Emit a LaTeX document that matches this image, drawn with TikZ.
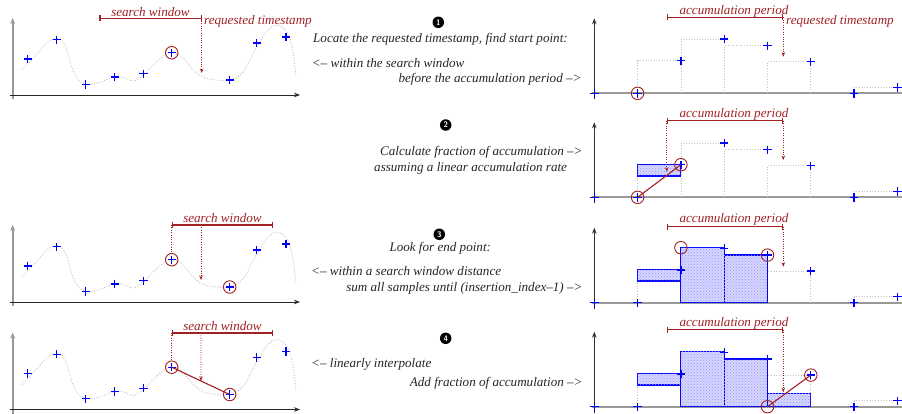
\documentclass[tikz,border=0pt]{standalone}
\usepackage{fontspec}
\setmainfont{Liberation Serif}
\usetikzlibrary{arrows.meta,calc,patterns}
\definecolor{dred}{RGB}{160,32,36}
\newcommand\curvepath{(21.7,70) (33.3,58.3) (46.7,43.3) (56.7,38.3) (65,45) (71.7,66.7) (78.3,80) (88.3,84.3) (100,82.3) (113.3,77.3) (123.3,77.3) (133.3,81) (143.3,75) (156.7,61.7) (170,52.3) (181.7,56.7) (193.3,70) (203.3,77.3) (216.7,80) (230,80) (243.3,71.7) (255,50) (266.7,31.7) (276.7,25) (286.7,31.7) (292.7,50) (296,76.7)}
\newcommand\leftbase[1]{%
  \draw[curveline] plot[smooth, tension=0.55] coordinates {\curvepath};
  \draw[yaxL] (12.7,99.3) -- (12.7,18);
  \draw[xaxL] (10,95) -- (300,95);
  \node[ptn] (#1p1) at (27.7,59) {};
  \node[ptn] (#1p2) at (56.7,39.7) {};
  \node[ptn] (#1p3) at (85.7,84.3) {};
  \node[ptn] (#1p4) at (114.7,77) {};
  \node[ptn] (#1p5) at (143.3,73.7) {};
  \node[ptn] (#1p6) at (171.7,52.7) {};
  \node[ptn] (#1p7) at (229.7,80) {};
  \node[ptn] (#1p8) at (256.7,43) {};
  \node[ptn] (#1p9) at (286,37) {};
}
\newcommand\rightbase{%
  \draw[yaxR] (594.3,6) -- (594.3,-75);
  \draw[xaxR] (591.7,0) -- (902,0);
  \draw[stepline] (637.6,0) -- (637.6,-32.6) -- (680.9,-32.6);
  \draw[stepline] (680.9,0) -- (680.9,-54.3) -- (724.2,-54.3);
  \draw[stepline] (724.2,0) -- (724.2,-47.6) -- (767.5,-47.6);
  \draw[stepline] (767.5,0) -- (767.5,-31.6) -- (810.8,-31.6) -- (810.8,0);
  \draw[stepline] (854.1,0) -- (854.1,-6) -- (897.4,-6);
}
\newcommand\rightpoints[1]{%
  \node[ptn] (#1q0) at (594.3,0) {};
  \node[ptn] (#1q1) at (637.6,0) {};
  \node[ptn] (#1q2) at (680.9,-32.6) {};
  \node[ptn] (#1q3) at (724.2,-54.3) {};
  \node[ptn] (#1q4) at (767.5,-47.6) {};
  \node[ptn] (#1q5) at (810.8,-31.6) {};
  \node[ptn] (#1q6) at (854.1,0) {};
  \node[ptn] (#1q7) at (897.4,-6) {};
}
\begin{document}
\begin{tikzpicture}[x=1pt,y=-1pt,
  every node/.style={font=\fontsize{13.1}{15}\selectfont\itshape},
  lbl/.style={text=dred, inner sep=0pt},
  txt/.style={text=black!85, inner sep=0pt},
  ptn/.style={shape=rectangle, inner sep=0pt, minimum size=8pt},
  plusline/.style={blue, line width=1.3pt},
  ring/.style={circle, draw=dred, line width=0.9pt, minimum size=12.5pt, inner sep=0pt},
  curveline/.style={gray!50, dash pattern=on 0.9pt off 1.8pt, line width=0.9pt},
  stepline/.style={gray!50, dash pattern=on 0.9pt off 1.8pt, line width=0.8pt},
  win/.style={dred, line width=1.2pt, {Bar[width=6pt]}-{Bar[width=6pt]}},
  drop/.style={dred, line width=0.9pt, dash pattern=on 1pt off 1.4pt, -{Stealth[length=4.5pt,width=3.5pt]}},
  guide/.style={dred, line width=0.9pt, dash pattern=on 1pt off 1.4pt},
  link/.style={dred, line width=1.1pt},
  yaxL/.style={gray!80, line width=1.8pt, -{Stealth[length=6pt,width=5pt]}},
  xaxL/.style={black!85, line width=0.8pt, -{Stealth[length=6pt,width=4.5pt]}},
  yaxR/.style={black!80, line width=0.8pt, -{Stealth[length=6pt,width=4.5pt]}},
  xaxR/.style={gray!80, line width=1.8pt},
  acc/.style={draw=blue, line width=1.1pt, fill=blue!16,
    postaction={pattern=crosshatch dots, pattern color=blue!40}},
  num/.style={circle, fill=black, text=white, inner sep=0pt, minimum size=11.5pt,
    font=\fontsize{8}{8}\selectfont\bfseries\sffamily}
]
\useasboundingbox (0,0) rectangle (902,413);

% ---------------- left panel 1
\begin{scope}
  \leftbase{a}
  \coordinate (aw1) at (99.3,18.3);
  \coordinate (aw2) at (201.7,18.3);
  \coordinate (at) at (201.7,73);
  \draw[win] (aw1) -- (aw2);
  \draw[drop] (aw2) -- (at);
  \node[lbl, anchor=base] (asw) at (150.5,16) {search window};
  \node[lbl, anchor=base west] (art) at (204,24) {requested timestamp};
\end{scope}

% ---------------- left panel 3
\begin{scope}[shift={(0,207)}]
  \leftbase{c}
  \coordinate (cw1) at (171.7,18);
  \coordinate (cw2) at (273.3,18);
  \coordinate (cwm) at (201,18);
  \coordinate (ct) at (201,73);
  \draw[win] (cw1) -- (cw2);
  \draw[drop] (cwm) -- (ct);
  \node[lbl, anchor=base] (csw) at (222.5,15) {search window};
\end{scope}

% ---------------- left panel 4
\begin{scope}[shift={(0,314.5)}]
  \leftbase{d}
  \coordinate (dw1) at (171.7,18.5);
  \coordinate (dw2) at (273.3,18.5);
  \coordinate (dwm) at (201,18.5);
  \draw[win] (dw1) -- (dw2);
  \node[lbl, anchor=base] (dsw) at (222.5,15.5) {search window};
\end{scope}

% ---------------- right panel 1
\begin{scope}[shift={(0,93.3)}]
  \rightbase
  \rightpoints{e}
  \coordinate (ew1) at (666.7,-76);
  \coordinate (ew2) at (783.3,-76);
  \coordinate (et) at (783.3,-36.6);
  \draw[win] (ew1) -- (ew2);
  \draw[drop] (ew2) -- (et);
  \node[lbl, anchor=base] (eap) at (734,-79.3) {accumulation period};
  \node[lbl, anchor=base west] (ert) at (786,-69.3) {requested timestamp};
\end{scope}

% ---------------- right panel 2
\begin{scope}[shift={(0,197.3)}]
  \rightbase
  \draw[acc] (637.6,-21.3) rectangle (680.9,-33);
  \rightpoints{f}
  \coordinate (fw1) at (666.7,-76.6);
  \coordinate (fw2) at (783.3,-76.6);
  \coordinate (fl) at (666.7,-25.6);
  \coordinate (ft) at (783.3,-37.3);
  \draw[win] (fw1) -- (fw2);
  \draw[drop] (fw1) -- (fl);
  \draw[drop] (fw2) -- (ft);
  \node[lbl, anchor=base] (fap) at (734,-79.8) {accumulation period};
\end{scope}

% ---------------- right panel 3
\begin{scope}[shift={(0,302.7)}]
  \rightbase
  \draw[acc] (637.6,-21.7) rectangle (680.9,-33.4);
  \draw[acc] (680.9,0) rectangle (724.2,-55);
  \draw[acc] (724.2,0) rectangle (767.5,-47.7);
  \rightpoints{g}
  \coordinate (gc) at (680.9,-55);
  \coordinate (gw1) at (666.7,-76);
  \coordinate (gw2) at (783.3,-76);
  \coordinate (gt) at (783.3,-36);
  \draw[win] (gw1) -- (gw2);
  \draw[drop] (gw2) -- (gt);
  \node[lbl, anchor=base] (gap) at (734,-80) {accumulation period};
\end{scope}

% ---------------- right panel 4
\begin{scope}[shift={(0,406.7)}]
  \rightbase
  \draw[acc] (637.6,-21.7) rectangle (680.9,-33.4);
  \draw[acc] (680.9,0) rectangle (724.2,-55);
  \draw[acc] (724.2,0) rectangle (767.5,-47.7);
  \draw[acc] (767.5,0) rectangle (810.8,-13.4);
  \rightpoints{h}
  \coordinate (hc) at (767.5,0);
  \coordinate (hw1) at (666.7,-77);
  \coordinate (hw2) at (783.3,-77);
  \coordinate (ht) at (783.3,-14.5);
  \draw[win] (hw1) -- (hw2);
  \node[lbl, anchor=base] (hap) at (734,-80) {accumulation period};
\end{scope}

% ---------------- sample marks (drawn on top)
\foreach \n in {ap1,ap2,ap3,ap4,ap5,ap6,ap7,ap8,ap9,
                cp1,cp2,cp3,cp4,cp5,cp6,cp7,cp8,cp9,
                dp1,dp2,dp3,dp4,dp5,dp6,dp7,dp8,dp9,
                eq0,eq1,eq2,eq3,eq4,eq5,eq6,eq7,
                fq0,fq1,fq2,fq3,fq4,fq5,fq6,fq7,
                gq0,gq1,gq2,gq3,gq4,gq5,gq6,gq7,
                hq0,hq1,hq2,hq3,hq4,hq5,hq6,hq7}
  \draw[plusline] (\n.north) -- (\n.south) (\n.west) -- (\n.east);

% ---------------- rings and red links
\node[ring] (ar6) at (ap6) {};
\node[ring] (cr6) at (cp6) {};
\node[ring] (cr7) at (cp7) {};
\draw[guide] (cw1) -- (cr6.north);
\node[ring] (dr6) at (dp6) {};
\node[ring] (dr7) at (dp7) {};
\draw[guide] (dw1) -- (dr6.north);
\draw[link] (dr6.center) -- (dr7.center);
\coordinate (dt) at ($(dr6.center)!0.505!(dr7.center)$);
\draw[drop] (dwm) -- (dt);
\node[ring] (er1) at (eq1) {};
\node[ring] (fr1) at (fq1) {};
\node[ring] (fr2) at (fq2) {};
\draw[link] (fr1.center) -- (fr2.center);
\node[ring] (grs) at (gc) {};
\node[ring] (gre) at (gq4) {};
\node[ring] (hr4) at (hc) {};
\node[ring] (hr5) at (hq5) {};
\draw[link] (hr4.center) -- (hr5.center);
\draw[drop] (hw2) -- (ht);

% ---------------- middle texts
\node[num] (n1) at (438.3,22.3) {1};
\node[txt, anchor=base west] (m11) at (313,42.5) {Locate the requested timestamp, find start point:};
\node[txt, anchor=base west] (m12) at (311.7,67) {<– within the search window};
\node[txt, anchor=base east] (m13) at (581.7,82.5) {before the accumulation period –>};

\node[num] (n2) at (445.7,125) {2};
\node[txt, anchor=base east] (m21) at (582.7,155.5) {Calculate fraction of accumulation –>};
\node[txt, anchor=base west] (m22) at (374,171) {assuming a linear accumulation rate};

\node[num] (n3) at (439.3,234.3) {3};
\node[txt, anchor=base west] (m31) at (389.3,251) {Look for end point:};
\node[txt, anchor=base west] (m32) at (311,275) {<– within a search window distance};
\node[txt, anchor=base east] (m33) at (582.7,291.5) {sum all samples until (insertion\_index–1) –>};

\node[num] (n4) at (445.7,338.3) {4};
\node[txt, anchor=base west] (m41) at (311,367) {<– linearly interpolate};
\node[txt, anchor=base east] (m42) at (582.7,386) {Add fraction of accumulation –>};
\end{tikzpicture}
\end{document}
